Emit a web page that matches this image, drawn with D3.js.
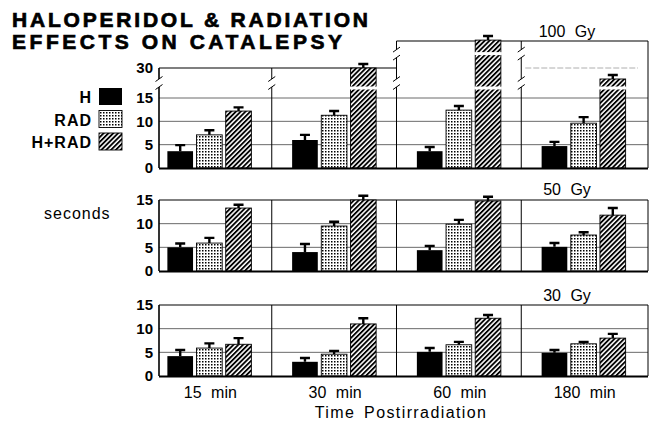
<!DOCTYPE html>
<html>
<head>
<meta charset="utf-8">
<script src="https://cdn.jsdelivr.net/npm/d3@7"></script>
<style>
  body { margin: 0; background: #fff; }
  svg { display: block; font-family: "Liberation Sans", Arial, sans-serif; }
</style>
</head>
<body>
<div id="chart"></div>
<script>
// x groups, treatments and panel labels
var groups = ["15 min", "30 min", "60 min", "180 min"];
var series = ["H", "RAD", "H+RAD"];
var doses = ["100 Gy", "50 Gy", "30 Gy"];

// mean catalepsy time (seconds), one row per treatment, plus SEM
var gy100Mean = [[3.6, 6.0, 3.6, 4.7], [7.1, 11.3, 12.4, 9.6], [12.2, 30, 61, 24.5]];
var gy100Sem  = [[1.3, 1.1, 0.9, 0.9], [1.0, 0.9, 0.9, 1.3], [0.8, 4.4, 4.5, 2.0]];
var gy50Mean  = [[5.0, 4.0, 4.4, 5.1], [5.9, 9.5, 9.9, 7.6], [13.3, 15.0, 14.8, 11.8]];
var gy50Sem   = [[0.8, 1.7, 0.9, 0.8], [1.1, 0.9, 0.9, 0.6], [0.7, 0.9, 0.9, 1.5]];
var gy30Mean  = [[4.2, 3.0, 5.1, 4.9], [5.9, 4.6, 6.6, 6.8], [6.7, 11.0, 12.2, 8.0]];
var gy30Sem   = [[1.3, 0.8, 0.8, 0.6], [1.0, 0.7, 0.6, 0.4], [1.3, 1.2, 0.7, 0.9]];

// tick labels and the broken-axis values of the 100 Gy panel
var ticksTop = [0, 5, 10, 15, 30];
var ticksLow = [0, 5, 10, 15];
var topDomain = [0, 15, 30, 60];
var breakLow = 20, breakHigh = 46, axisBreakLow = 22.5;

var width = 650, height = 427;
var left = 159, right = 648;

var svg = d3.select("#chart").append("svg")
    .attr("width", width)
    .attr("height", height);

// fill patterns
var defs = svg.append("defs");
var dots = defs.append("pattern")
    .attr("id", "dots")
    .attr("patternUnits", "userSpaceOnUse")
    .attr("width", 3).attr("height", 3);
dots.append("rect").attr("width", 3).attr("height", 3).attr("fill", "#fff");
dots.append("rect").attr("x", 1).attr("y", 1).attr("width", 1.5).attr("height", 1.5).attr("fill", "#000");

var hatch = defs.append("pattern")
    .attr("id", "hatch")
    .attr("patternUnits", "userSpaceOnUse")
    .attr("width", 3.4).attr("height", 3.4)
    .attr("patternTransform", "rotate(45)");
hatch.append("rect").attr("width", 3.4).attr("height", 3.4).attr("fill", "#fff");
hatch.append("line").attr("x1", 0.9).attr("y1", 0).attr("x2", 0.9).attr("y2", 3.4)
    .attr("stroke", "#000").attr("stroke-width", 1.9);

var fills = {"H": "#000", "RAD": "url(#dots)", "H+RAD": "url(#hatch)"};

// scales
var x = d3.scaleBand().domain(groups).range([147, 646]);
var inner = d3.scaleBand().domain(series).range([-42, 42]).paddingInner(0.12);

var panels = [
    {label: doses[0], mean: gy100Mean, sem: gy100Sem, ticks: ticksTop,
     y: d3.scaleLinear().domain(topDomain).range([168, 98, 68, 41]), labelY: 37},
    {label: doses[1], mean: gy50Mean, sem: gy50Sem, ticks: ticksLow,
     y: d3.scaleLinear().domain([0, 15]).range([271, 200]), labelY: 195},
    {label: doses[2], mean: gy30Mean, sem: gy30Sem, ticks: ticksLow,
     y: d3.scaleLinear().domain([0, 15]).range([376, 305]), labelY: 301}
];

panels.forEach(function(p, pi) {
    var g = svg.append("g");
    var y = p.y;
    var y0 = y(0);

    // grid lines
    g.selectAll(".grid")
        .data(p.ticks.filter(function(t) { return t > 0 && t < 15 || (pi == 0 && t == 15); }))
        .enter().append("line")
        .attr("x1", left).attr("x2", right)
        .attr("y1", function(d) { return y(d); })
        .attr("y2", function(d) { return y(d); })
        .attr("stroke", "#444").attr("stroke-width", 0.8);

    // frame
    var frameTop = pi == 0 ? y(30) : y(15);
    var frame = g.append("g").attr("stroke", "#000").attr("fill", "none");
    if (pi == 0) {
        frame.append("line").attr("x1", left).attr("x2", x(groups[2])).attr("y1", y(30)).attr("y2", y(30)).attr("stroke-width", 1.2);
        frame.append("line").attr("x1", x(groups[2])).attr("x2", right).attr("y1", y(60)).attr("y2", y(60)).attr("stroke-width", 1.2);
        frame.append("line").attr("x1", x(groups[3]) + 4).attr("x2", right - 10).attr("y1", y(30)).attr("y2", y(30))
            .attr("stroke", "#999").attr("stroke-width", 0.8).attr("stroke-dasharray", "6 2");
    } else {
        frame.append("line").attr("x1", left).attr("x2", right).attr("y1", frameTop).attr("y2", frameTop).attr("stroke-width", 1.2);
    }
    frame.append("line").attr("x1", left).attr("x2", left).attr("y1", frameTop).attr("y2", y0).attr("stroke-width", 1.6);
    frame.append("line").attr("x1", right).attr("x2", right)
        .attr("y1", pi == 0 ? y(60) : frameTop).attr("y2", y0).attr("stroke-width", 1);
    groups.slice(1).forEach(function(gr, i) {
        var top = (pi == 0 && i > 0) ? y(60) : frameTop;
        frame.append("line").attr("x1", x(gr)).attr("x2", x(gr)).attr("y1", top).attr("y2", y0).attr("stroke-width", 1);
    });

    // bars
    series.forEach(function(s, si) {
        var bars = g.append("g");
        bars.selectAll("rect")
            .data(p.mean[si])
            .enter().append("rect")
            .attr("x", function(d, j) { return x(groups[j]) + x.bandwidth() / 2 + inner(s); })
            .attr("y", function(d) { return y(d); })
            .attr("width", inner.bandwidth())
            .attr("height", function(d) { return y0 - y(d); })
            .attr("fill", fills[s])
            .attr("stroke", "#000")
            .attr("stroke-width", s == "H" ? 0 : 0.9);

        // error bars
        bars.selectAll(".err")
            .data(p.mean[si])
            .enter().append("path")
            .attr("d", function(d, j) {
                var cx = x(groups[j]) + x.bandwidth() / 2 + inner(s) + inner.bandwidth() / 2;
                var top = y(d + p.sem[si][j]);
                return "M" + cx + "," + y(d) + "V" + top + "M" + (cx - 5) + "," + top + "H" + (cx + 5);
            })
            .attr("stroke", "#000").attr("stroke-width", 2.4).attr("fill", "none");

        // white gaps where the bars cross the axis breaks
        if (pi == 0) {
            [breakLow, breakHigh].forEach(function(b) {
                bars.selectAll(null)
                    .data(p.mean[si].map(function(d, j) { return {v: d, j: j}; }).filter(function(d) { return d.v > b; }))
                    .enter().append("rect")
                    .attr("x", function(d) { return x(groups[d.j]) + x.bandwidth() / 2 + inner(s) - 1; })
                    .attr("y", y(b) - 1.5)
                    .attr("width", inner.bandwidth() + 2)
                    .attr("height", 3)
                    .attr("fill", "#fff");
            });
        }
    });

    // break marks on the vertical lines
    if (pi == 0) {
        var marks = [[left, axisBreakLow], [x(groups[1]), axisBreakLow], [x(groups[2]), axisBreakLow],
                     [x(groups[3]), axisBreakLow], [x(groups[2]), breakHigh], [x(groups[3]), breakHigh]];
        marks.forEach(function(m) {
            var mx = m[0], my = y(m[1]);
            g.append("rect").attr("x", mx - 2).attr("y", my - 4).attr("width", 4).attr("height", 8).attr("fill", "#fff");
            [-4, 4].forEach(function(o) {
                g.append("line")
                    .attr("x1", mx - 3.5).attr("y1", my + o + 2.5)
                    .attr("x2", mx + 3.5).attr("y2", my + o - 2.5)
                    .attr("stroke", "#000").attr("stroke-width", 1);
            });
        });
    }

    // bottom axis
    g.append("line").attr("x1", left).attr("x2", right).attr("y1", y0 + 0.5).attr("y2", y0 + 0.5)
        .attr("stroke", "#000").attr("stroke-width", 2);

    // y tick labels
    var axis = g.append("g")
        .attr("transform", "translate(" + left + ",0)")
        .call(d3.axisLeft(y).tickValues(p.ticks).tickSize(0).tickPadding(6).tickFormat(d3.format("d")));
    axis.select(".domain").remove();
    axis.selectAll("text")
        .attr("font-family", "Liberation Sans, Arial, sans-serif")
        .attr("font-size", 15).attr("font-weight", "bold").attr("fill", "#000");

    // dose label
    g.append("text")
        .attr("x", 567).attr("y", p.labelY)
        .attr("text-anchor", "middle")
        .attr("font-size", 16)
        .style("word-spacing", "5px")
        .text(p.label);
});

// x labels
svg.append("g").selectAll("text")
    .data(groups)
    .enter().append("text")
    .attr("x", function(d) { return x(d) + x.bandwidth() / 2 + 1; })
    .attr("y", 398)
    .attr("text-anchor", "middle")
    .attr("font-size", 16)
    .style("word-spacing", "5px")
    .text(function(d) { return d; });

svg.append("text")
    .attr("x", 401).attr("y", 418)
    .attr("text-anchor", "middle")
    .attr("font-size", 16)
    .style("letter-spacing", "1.4px")
    .style("word-spacing", "3px")
    .text("Time Postirradiation");

svg.append("text")
    .attr("x", 44).attr("y", 219)
    .attr("font-size", 16)
    .style("letter-spacing", "1px")
    .text("seconds");

// legend
var legend = svg.append("g");
series.forEach(function(s, i) {
    var ly = 88 + i * 22.5;
    legend.append("rect")
        .attr("x", 99).attr("y", ly).attr("width", 23).attr("height", 17)
        .attr("fill", fills[s]).attr("stroke", "#000").attr("stroke-width", s == "H" ? 0 : 0.9);
    legend.append("text")
        .attr("x", 92).attr("y", ly + 15)
        .attr("text-anchor", "end")
        .attr("font-size", 16).attr("font-weight", "bold")
        .style("letter-spacing", "1px")
        .text(s);
});

// title
var title = svg.append("g")
    .attr("font-size", 21).attr("font-weight", "bold")
    .attr("stroke", "#000").attr("stroke-width", 0.7);
title.append("text").attr("x", 12).attr("y", 27)
    .attr("textLength", 356).attr("lengthAdjust", "spacing")
    .text("HALOPERIDOL & RADIATION");
title.append("text").attr("x", 12).attr("y", 49)
    .attr("textLength", 330).attr("lengthAdjust", "spacing")
    .text("EFFECTS ON CATALEPSY");
</script>
</body>
</html>
